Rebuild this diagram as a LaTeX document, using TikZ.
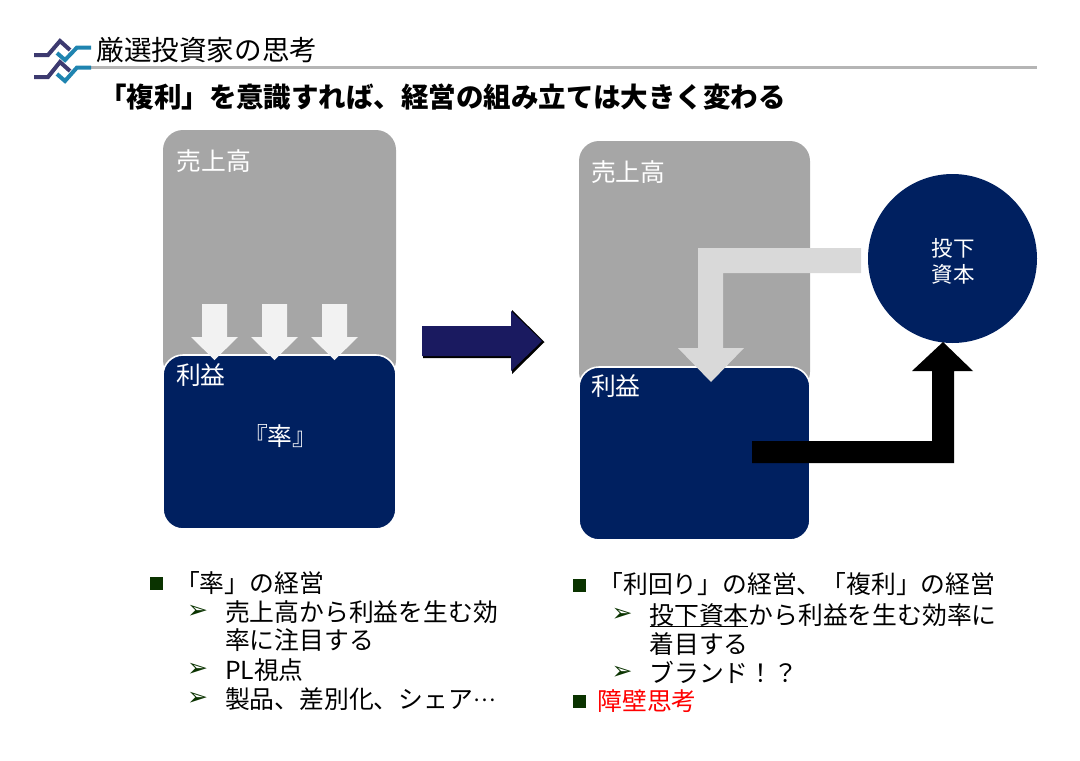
\documentclass[tikz,border=0pt]{standalone}
\usepackage{fontspec}
\setmainfont{Noto Sans CJK JP}
\newfontfamily\symfont{DejaVu Sans}
\definecolor{navy}{HTML}{002060}
\definecolor{boxgray}{HTML}{A6A6A6}
\definecolor{bulletgreen}{HTML}{0A3300}
\definecolor{logopurple}{HTML}{3D3A70}
\definecolor{logoblue}{HTML}{1F84B0}
\definecolor{rulegray}{HTML}{B5B5B5}
\definecolor{bigarrow}{HTML}{1A1A60}
\newcommand{\fs}[1]{\fontsize{#1}{#1}\selectfont}
\tikzset{
  txt/.style={inner sep=0pt,outer sep=0pt,anchor=base west,text=black,font=\fs{24.8}},
  boxlabel/.style={txt,text=white},
  grayblock/.style={fill=boxgray,rounded corners=20pt},
  navyblock/.style={fill=navy,draw=white,line width=1.6pt,rounded corners=20pt},
  squarebullet/.style={fill=bulletgreen,inner sep=0pt,minimum width=13pt,minimum height=13pt,draw=none},
  arrowbullet/.style={inner sep=0pt,text=bulletgreen,font=\symfont\fs{25}},
  logoa/.style={draw=logopurple,line width=4pt,line join=miter},
  logob/.style={draw=logoblue,line width=4pt,line join=miter},
}
\begin{document}
\begin{tikzpicture}[x=1pt,y=-1pt]
\useasboundingbox (0,0) rectangle (1080,761);
% logo and header rule
\draw[rulegray,line width=3pt] (91,67.5) -- (1037,67.5);
\draw[logoa] (34,55) -- (48,55) -- (60,41) -- (70,50);
\draw[logob] (57,53) -- (65,60) -- (77,47.5) -- (91,47.5);
\draw[logoa] (34,77) -- (48,77) -- (60,62) -- (70,71);
\draw[logob] (57,74) -- (65,81) -- (77,67.5) -- (91,67.5);
\node[txt,font=\fs{27.6}] (title) at (96.5,60) {厳選投資家の思考};
\node[txt,font=\bfseries\fs{27.5}] (subtitle) at (99,107) {「複利」を意識すれば、経営の組み立ては大きく変わる};
% left column
\fill[grayblock] (163,380) rectangle (396,130);
\path[navyblock] (163,355) rectangle (396,529);
\foreach \c in {214.5,274.5,334.5}{
  \fill[white!95!black] (\c-12.5,304) -- (\c+12.5,304) -- (\c+12.5,337) -- (\c+23.5,337) -- (\c,360) -- (\c-23.5,337) -- (\c-12.5,337) -- cycle;
}
\node[boxlabel] (salesL) at (176.5,170) {売上高};
\node[boxlabel] (profitL) at (176,384) {利益};
\node[boxlabel] (rate) at (243,445) {『率』};
% big arrow
\fill[black] (423,326) -- (512,326) -- (512,310) -- (544.5,342) -- (512,374) -- (512,358) -- (423,358) -- cycle;
\fill[bigarrow] (422,326) -- (511,326) -- (511,311) -- (542,341) -- (511,371) -- (511,356) -- (422,356) -- cycle;
% right column
\fill[grayblock] (579,392) rectangle (810,141);
\path[navyblock] (579,367) rectangle (810,540);
\node[circle,fill=navy,minimum size=169pt,inner sep=0pt] (capital) at (952.5,258.5) {};
\fill[black!15] (861,248) -- (698,248) -- (698,348) -- (678,348) -- (711,382) -- (744,348) -- (723,348) -- (723,273) -- (861,273) -- cycle;
\fill[black] (752,441) -- (932,441) -- (932,371) -- (912,371) -- (943,342) -- (973,371) -- (954,371) -- (954,463) -- (752,463) -- cycle;
\node[boxlabel] (salesR) at (591,181) {売上高};
\node[boxlabel] (profitR) at (591,395) {利益};
\node[boxlabel,font=\fs{21.5}] (capA) at (931.5,256) {投下};
\node[boxlabel,font=\fs{21.5}] (capB) at (931.5,282) {資本};
% left bullets
\node[squarebullet] (bL) at (156.5,583) {};
\node[txt] (lA) at (175,592) {「率」の経営};
\node[arrowbullet] (bLa) at (197.5,612) {➢};
\node[txt] (lB) at (225,621) {売上高から利益を生む効};
\node[txt] (lC) at (225,649) {率に注目する};
\node[arrowbullet] (bLb) at (197.5,670) {➢};
\node[txt] (lD) at (225,679) {PL視点};
\node[arrowbullet] (bLc) at (197.5,699) {➢};
\node[txt] (lE) at (225,708) {製品、差別化、シェア\raisebox{7pt}{\fs{21}…}};
% right bullets
\node[squarebullet] (bR) at (579.5,585) {};
\node[txt] (rA) at (598.5,593) {「利回り」の経営、「複利」の経営};
\node[arrowbullet] (bRa) at (622,615) {➢};
\node[txt] (rB) at (649.5,624) {\rlap{\rule[-3pt]{98.5pt}{1.1pt}}投下資本から利益を生む効率に};
\node[txt] (rC) at (649.5,653) {着目する};
\node[arrowbullet] (bRb) at (622,673) {➢};
\node[txt] (rD) at (649.5,682) {ブランド！？};
\node[squarebullet] (bRc) at (579.5,701) {};
\node[txt,text=red] (rE) at (597.5,710) {障壁思考};
\end{tikzpicture}
\end{document}
